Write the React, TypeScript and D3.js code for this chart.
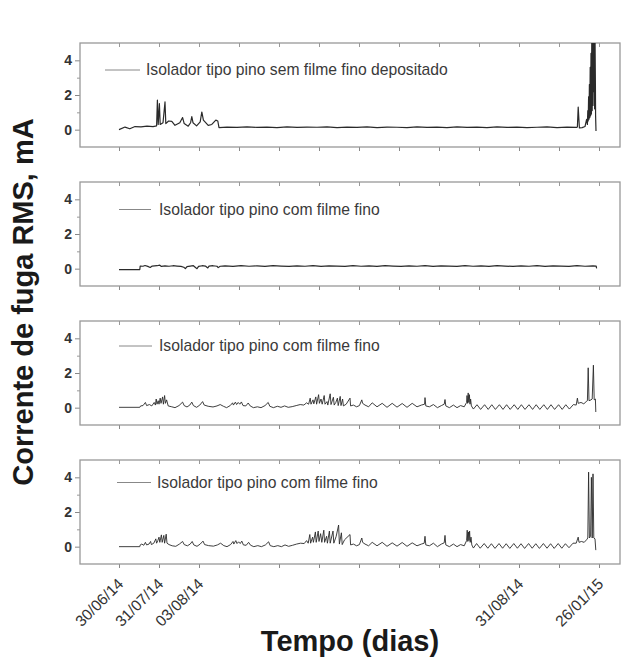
import React, { useRef, useEffect } from 'react';
import * as d3 from 'd3';

type Pt = [number, number];

// x is a day-index scale where every 10 units is one axis tick
const seriesNames = [
  'Isolador tipo pino sem filme fino depositado',
  'Isolador tipo pino com filme fino',
  'Isolador tipo pino com filme fino',
  'Isolador tipo pino com filme fino',
];

const dateTicks = [0, 10, 20, 100, 120];
const dateLabels = ['30/06/14', '31/07/14', '03/08/14', '31/08/14', '26/01/15'];
const yTicks = [0, 2, 4];
const yMinorTicks = [1, 3];

const semFilme: Pt[] = [
  [0, 0.0], [1.5, 0.15], [2.7, 0.05], [4, 0.18], [5.5, 0.16], [7, 0.2], [8.5, 0.18], [9.4, 0.22],
  [9.6, 1.7], [9.8, 0.3], [10.1, 1.5], [10.3, 0.3], [11, 0.4], [11.5, 1.6], [11.7, 0.35],
  [12.4, 0.5], [13.2, 0.48], [14, 0.25], [15.2, 0.4], [15.9, 0.7], [16.3, 0.35], [17.3, 0.2],
  [17.9, 0.4], [18.2, 0.75], [18.5, 0.4], [19.4, 0.22], [20.3, 0.45], [20.7, 1.02], [21.1, 0.55],
  [22.3, 0.25], [23.2, 0.3], [24.2, 0.55], [24.7, 0.5], [25, 0.12],
  [27, 0.15], [29.5, 0.13], [32, 0.16], [34.5, 0.13], [37, 0.15], [39.5, 0.12], [42, 0.16],
  [44.5, 0.13], [47, 0.15], [49.5, 0.14], [52, 0.16], [54.5, 0.12], [57, 0.15], [59.5, 0.13],
  [62, 0.16], [64.5, 0.12], [67, 0.15], [69.5, 0.14], [72, 0.12], [74.5, 0.16], [77, 0.13],
  [79.5, 0.15], [82, 0.12], [84.5, 0.16], [87, 0.13], [89.5, 0.15], [92, 0.12], [94.5, 0.16],
  [97, 0.13], [99.5, 0.15], [102, 0.12], [104.5, 0.14], [107, 0.16], [109.5, 0.12], [112, 0.15],
  [114.4, 0.13], [114.6, 0.15], [114.8, 1.3], [115.1, 0.1], [115.8, 0.12], [116.5, 0.18],
  [116.9, 0.6], [117.1, 0.3], [117.2, 1.1], [117.3, 0.5], [117.4, 1.9], [117.5, 0.6], [117.6, 2.6],
  [117.7, 0.7], [117.8, 3.6], [117.9, 0.8], [118.0, 4.4], [118.1, 0.9], [118.2, 5.5], [118.3, 1.1],
  [118.4, 5.5], [118.5, 1.4], [118.6, 5.5], [118.7, 2.2], [118.8, 5.5], [118.9, 1.2], [119.0, 5.5],
  [119.1, 2.6], [119.15, 0.8], [119.25, -0.08],
];

const comFilmeA: Pt[] = [
  [0, -0.05], [5.2, -0.05], [5.3, 0.15], [6, 0.14], [6.5, 0.18], [7.2, 0.13], [7.8, 0.07],
  [8.3, 0.15], [9.5, 0.17], [10.2, 0.2], [10.6, 0.13], [11.5, 0.16], [12.5, 0.14], [13.5, 0.17],
  [14.5, 0.15], [15.5, 0.13], [16.2, 0.08], [16.6, 0.0], [17, 0.12], [17.8, 0.15], [18.6, 0.17],
  [19.2, 0.05], [19.5, 0.0], [19.9, 0.13], [20.8, 0.17], [21.6, 0.15], [22.2, 0.04], [22.5, 0.15],
  [23.5, 0.17], [24.5, 0.14], [24.8, 0.06], [25.3, 0.14], [26.5, 0.16], [28.5, 0.13], [30.5, 0.17],
  [32.5, 0.14], [34.5, 0.16], [36.5, 0.13], [38.5, 0.17], [40.5, 0.15], [42.5, 0.13], [44.5, 0.16],
  [46.5, 0.14], [48.5, 0.17], [50.5, 0.13], [52.5, 0.16], [54.5, 0.15], [56.5, 0.13], [58.5, 0.17],
  [60.5, 0.14], [62.5, 0.16], [64.5, 0.13], [66.5, 0.17], [68.5, 0.15], [70.5, 0.13], [72.5, 0.16],
  [74.5, 0.14], [76.5, 0.17], [78.5, 0.13], [80.5, 0.16], [82.5, 0.15], [84.5, 0.13], [86.5, 0.17],
  [88.5, 0.14], [90.5, 0.16], [92.5, 0.13], [94.5, 0.17], [96.5, 0.15], [98.5, 0.13], [100.5, 0.16],
  [102.5, 0.14], [104.5, 0.17], [106.5, 0.13], [108.5, 0.16], [110.5, 0.15], [112.5, 0.13],
  [114.5, 0.17], [116.5, 0.14], [118.5, 0.16], [119.3, 0.15], [119.4, 0.02],
];

const comFilmeB: Pt[] = [
  [0, 0.02], [5.2, 0.02], [5.4, 0.1], [6, 0.12], [6.6, 0.3], [6.9, 0.12], [7.6, 0.18], [8.2, 0.1],
  [8.8, 0.3], [9.1, 0.15], [9.3, 0.5], [9.5, 0.2], [9.8, 0.4], [10, 0.2], [10.3, 0.55], [10.5, 0.25],
  [10.9, 0.62], [11.1, 0.2], [11.4, 0.7], [11.6, 0.25], [11.9, 0.45], [12.3, 0.1], [13.2, 0.05],
  [14, 0.0], [15, 0.12], [15.9, 0.32], [16.3, 0.12], [17, 0.04], [17.7, 0.15], [18.2, 0.32],
  [18.6, 0.12], [19.4, 0.02], [20.2, 0.15], [20.9, 0.35], [21.3, 0.15], [22.3, 0.08], [23.5, 0.04],
  [24.5, 0.1], [25.3, 0.18], [26.1, 0.08], [26.9, 0.0], [27.8, 0.12], [28.4, 0.28], [28.6, 0.15],
  [29.1, 0.32], [29.4, 0.18], [29.8, 0.3], [30.2, 0.2], [30.6, 0.33], [31, 0.12], [31.7, 0.1],
  [32.3, 0.27], [32.8, 0.1], [33.6, 0.0], [34.6, 0.05], [35.5, 0.0], [36.5, 0.12], [37.3, 0.3],
  [37.7, 0.08], [38.6, 0.0], [39.6, 0.08], [40.5, 0.02], [41.4, 0.1], [42.3, 0.02], [43.3, 0.06],
  [44.3, 0.12], [45.3, 0.18], [46.2, 0.15], [46.9, 0.28], [47.4, 0.2], [47.8, 0.55], [48.0, 0.2],
  [48.5, 0.45], [48.7, 0.22], [49.2, 0.62], [49.4, 0.2], [49.9, 0.75], [50.1, 0.25], [50.5, 0.5],
  [50.8, 0.2], [51.3, 0.7], [51.5, 0.2], [52, 0.35], [52.2, 0.15], [52.8, 0.8], [53, 0.18],
  [53.6, 0.6], [53.8, 0.15], [54.2, 0.3], [54.6, 0.55], [54.8, 0.12], [55.3, 0.65], [55.5, 0.12],
  [55.9, 0.5], [56.1, 0.1], [56.8, 0.2], [57.75, 0.55], [57.9, 0.1], [58.6, 0.15], [59.4, 0.05],
  [60.1, 0.12], [60.7, 0.45], [60.9, 0.25], [61.5, 0.15], [62.4, 0.05], [63.3, 0.28], [64.5, 0.05],
  [65.8, 0.25], [67, 0.02], [68.3, 0.25], [69.5, 0.03], [70.8, 0.24], [72, 0.02], [73.3, 0.25],
  [74.5, 0.05], [75.6, 0.15], [76.4, 0.2], [76.5, 0.58], [76.7, 0.1], [77.6, 0.05], [78.6, 0.18],
  [79.6, 0.0], [80.6, 0.12], [81.3, 0.2], [81.5, 0.47], [81.7, 0.1], [82.6, 0.0], [83.6, 0.15],
  [84.5, 0.0], [85.4, 0.12], [86.3, 0.05], [86.9, 0.3], [87.0, 0.7], [87.15, 0.25], [87.3, 0.85],
  [87.45, 0.3], [87.6, 0.75], [87.75, 0.2], [87.9, 0.5], [88.1, 0.1], [88.6, -0.08], [89.5, 0.17],
  [90.4, -0.1], [91.4, 0.17], [92.3, -0.1], [93.2, 0.17], [94.1, -0.1], [95.1, 0.17], [96, -0.1],
  [96.9, 0.17], [97.8, -0.1], [98.8, 0.17], [99.7, -0.1], [100.6, 0.17], [101.5, -0.1], [102.5, 0.17],
  [103.4, -0.1], [104.3, 0.17], [105.2, -0.1], [106.2, 0.17], [107.1, -0.1], [108, 0.17],
  [108.9, -0.1], [109.9, 0.17], [110.8, -0.1], [111.7, 0.17], [112.6, -0.08], [113.6, 0.18],
  [114.3, 0.15], [114.6, 0.55], [114.8, 0.25], [115.5, 0.3], [116.2, 0.22], [116.8, 0.35],
  [117.1, 0.4], [117.3, 2.3], [117.5, 0.4], [118, 0.45], [118.3, 0.5], [118.6, 2.45], [118.8, 0.45],
  [119.1, 0.5], [119.2, -0.25],
];

const comFilmeC: Pt[] = [
  [0, 0.0], [5.2, 0.0], [5.3, 0.1], [5.7, 0.15], [6.2, 0.08], [6.6, 0.25], [6.9, 0.1], [7.5, 0.15],
  [7.9, 0.3], [8.1, 0.12], [8.7, 0.2], [9.2, 0.45], [9.4, 0.2], [9.7, 0.35], [10, 0.55], [10.2, 0.25],
  [10.6, 0.68], [10.8, 0.25], [11.2, 0.65], [11.4, 0.2], [11.8, 0.72], [12, 0.2], [12.5, 0.12],
  [13.3, 0.05], [14.2, 0.02], [15.1, 0.15], [15.9, 0.3], [16.3, 0.12], [17.1, 0.05], [17.8, 0.15],
  [18.3, 0.3], [18.7, 0.1], [19.5, 0.02], [20.3, 0.15], [21, 0.32], [21.4, 0.12], [22.4, 0.06],
  [23.6, 0.03], [24.6, 0.1], [25.4, 0.2], [26.2, 0.06], [27, 0.0], [27.9, 0.12], [28.5, 0.3],
  [28.7, 0.15], [29.2, 0.35], [29.5, 0.18], [29.9, 0.28], [30.3, 0.18], [30.7, 0.32], [31.1, 0.1],
  [31.8, 0.08], [32.4, 0.25], [32.9, 0.08], [33.7, 0.0], [34.7, 0.06], [35.6, 0.0], [36.6, 0.1],
  [37.4, 0.28], [37.8, 0.06], [38.7, 0.0], [39.7, 0.06], [40.6, 0.0], [41.5, 0.1], [42.4, 0.02],
  [43.4, 0.08], [44.4, 0.15], [45.4, 0.2], [46.3, 0.18], [46.9, 0.35], [47.3, 0.2], [47.7, 0.7],
  [47.9, 0.2], [48.4, 0.55], [48.6, 0.25], [49.1, 0.85], [49.3, 0.25], [49.8, 0.9], [50, 0.3],
  [50.4, 0.75], [50.7, 0.25], [51.2, 0.95], [51.4, 0.25], [51.9, 0.6], [52.1, 0.2], [52.6, 0.9],
  [52.8, 0.2], [53.5, 0.9], [53.7, 0.2], [54.3, 0.6], [54.9, 1.25], [55.1, 0.15], [55.6, 0.8],
  [55.8, 0.12], [56.4, 0.4], [57.75, 0.7], [57.9, 0.1], [58.6, 0.15], [59.4, 0.05], [60.1, 0.12],
  [60.7, 0.5], [60.9, 0.25], [61.5, 0.15], [62.4, 0.05], [63.3, 0.25], [64.5, 0.05], [65.8, 0.25],
  [67, 0.02], [68.3, 0.22], [69.5, 0.03], [70.8, 0.24], [72, 0.02], [73.3, 0.22], [74.5, 0.05],
  [75.6, 0.15], [76.3, 0.2], [76.5, 0.6], [76.7, 0.1], [77.6, 0.05], [78.6, 0.2], [79.6, 0.0],
  [80.6, 0.15], [81.3, 0.22], [81.5, 0.65], [81.7, 0.1], [82.6, 0.0], [83.6, 0.15], [84.5, 0.0],
  [85.4, 0.12], [86.3, 0.05], [86.9, 0.35], [87.05, 0.95], [87.2, 0.3], [87.35, 0.85], [87.5, 0.35],
  [87.65, 0.9], [87.8, 0.25], [88, 0.55], [88.2, 0.1], [88.6, -0.08], [89.4, 0.18], [90.3, -0.09],
  [91.3, 0.18], [92.2, -0.09], [93.1, 0.17], [94, -0.1], [95, 0.18], [95.9, -0.09], [96.8, 0.17],
  [97.7, -0.1], [98.7, 0.18], [99.6, -0.09], [100.5, 0.17], [101.4, -0.1], [102.4, 0.18],
  [103.3, -0.09], [104.2, 0.17], [105.1, -0.1], [106.1, 0.18], [107, -0.09], [107.9, 0.17],
  [108.8, -0.1], [109.8, 0.18], [110.7, -0.09], [111.6, 0.17], [112.5, -0.06], [113.5, 0.2],
  [114.3, 0.2], [114.8, 0.55], [115, 0.25], [115.6, 0.3], [116.3, 0.25], [116.9, 0.4], [117.2, 0.5],
  [117.4, 4.3], [117.6, 0.5], [117.9, 0.6], [118.1, 4.0], [118.3, 0.5], [118.5, 4.2], [118.7, 0.5],
  [119, 0.45], [119.2, -0.2],
];

const series: Pt[][] = [semFilme, comFilmeA, comFilmeB, comFilmeC];

const W = 635;
const H = 662;
const left = 80;
const right = 620;
const panelTops = [43, 182, 321, 460];
const panelH = 104;
// legend line start/end, text start, vertical offset from panel top, trace width
const legendLayout = [
  { x0: 105, x1: 140, tx: 146, dy: 27, sw: 1.2 },
  { x0: 119, x1: 151, tx: 159, dy: 27.5, sw: 1.2 },
  { x0: 119, x1: 152, tx: 159, dy: 25, sw: 0.9 },
  { x0: 117, x1: 151, tx: 157, dy: 22.5, sw: 0.9 },
];
const font = "'Liberation Sans', Arial, Helvetica, sans-serif";

const App = () => {
  const svgRef = useRef<SVGSVGElement | null>(null);

  useEffect(() => {
    const svg = d3.select(svgRef.current);
    svg.selectAll('*').remove();

    svg.append('rect').attr('width', W).attr('height', H).attr('fill', '#fff');

    const x = d3.scaleLinear().domain([-9.75, 125.25]).range([left, right]);
    const defs = svg.append('defs');

    series.forEach((data, i) => {
      const top = panelTops[i];
      const bottom = top + panelH;
      const y = d3.scaleLinear().domain([-1, 5]).range([bottom, top]);
      const g = svg.append('g');
      const lg = legendLayout[i];

      defs.append('clipPath').attr('id', `clip${i}`)
        .append('rect')
        .attr('x', left).attr('y', top)
        .attr('width', right - left).attr('height', panelH);

      // y axis, major + minor ticks
      g.append('g')
        .attr('transform', `translate(${left},0)`)
        .call(d3.axisLeft(y).tickValues(yTicks).tickSize(5).tickPadding(3).tickFormat(d3.format('d')))
        .call(a => a.select('.domain').remove())
        .call(a => a.selectAll('line').attr('stroke', '#888'))
        .call(a => a.selectAll('text')
          .attr('font-family', font).attr('font-size', 14).attr('font-weight', 'bold').attr('fill', '#333'));

      g.append('g')
        .attr('transform', `translate(${left},0)`)
        .call(d3.axisLeft(y).tickValues(yMinorTicks).tickSize(3).tickFormat(() => ''))
        .call(a => a.select('.domain').remove())
        .call(a => a.selectAll('line').attr('stroke', '#999'));

      // x ticks on bottom (outward) and top (inward)
      g.append('g')
        .attr('transform', `translate(0,${bottom})`)
        .call(d3.axisBottom(x).tickValues(d3.range(0, 121, 10)).tickSize(4).tickFormat(() => ''))
        .call(a => a.select('.domain').remove())
        .call(a => a.selectAll('line').attr('stroke', '#888'));

      g.append('g')
        .attr('transform', `translate(0,${top})`)
        .call(d3.axisBottom(x).tickValues(d3.range(0, 121, 10)).tickSize(4).tickFormat(() => ''))
        .call(a => a.select('.domain').remove())
        .call(a => a.selectAll('line').attr('stroke', '#999'));

      // frame
      g.append('rect')
        .attr('x', left).attr('y', top)
        .attr('width', right - left).attr('height', panelH)
        .attr('fill', 'none').attr('stroke', '#999').attr('stroke-width', 1.3);

      const line = d3.line<Pt>()
        .x(d => x(d[0]))
        .y(d => y(d[1]));

      g.append('path')
        .datum(data)
        .attr('clip-path', `url(#clip${i})`)
        .attr('fill', 'none')
        .attr('stroke', '#2a2a2a')
        .attr('stroke-width', lg.sw)
        .attr('stroke-linejoin', 'round')
        .attr('d', line);

      // legend
      g.append('line')
        .attr('x1', lg.x0).attr('x2', lg.x1)
        .attr('y1', top + lg.dy).attr('y2', top + lg.dy)
        .attr('stroke', '#888').attr('stroke-width', 1);
      g.append('text')
        .attr('x', lg.tx).attr('y', top + lg.dy)
        .attr('dy', '0.35em')
        .attr('font-family', font).attr('font-size', 15.7).attr('fill', '#3a3a3a')
        .text(seriesNames[i]);
    });

    // date labels under the last panel
    const lastBottom = panelTops[3] + panelH;
    svg.append('g')
      .attr('transform', `translate(0,${lastBottom})`)
      .call(d3.axisBottom(x).tickValues(dateTicks).tickSize(0).tickFormat((_, k) => dateLabels[k]))
      .call(a => a.select('.domain').remove())
      .call(a => a.selectAll('text')
        .attr('font-family', font).attr('font-size', 15.5).attr('fill', '#333')
        .attr('text-anchor', 'end')
        .attr('x', 0).attr('y', 0).attr('dy', '0.35em')
        .attr('transform', 'translate(1,17) rotate(-45)'));

    // axis titles
    svg.append('text')
      .attr('x', 350).attr('y', 651)
      .attr('text-anchor', 'middle')
      .attr('font-family', font).attr('font-size', 29).attr('font-weight', 'bold').attr('fill', '#1a1a1a')
      .text('Tempo (dias)');

    svg.append('text')
      .attr('transform', 'translate(33,302) rotate(-90)')
      .attr('text-anchor', 'middle')
      .attr('font-family', font).attr('font-size', 29).attr('font-weight', 'bold').attr('fill', '#1a1a1a')
      .text('Corrente de fuga RMS, mA');
  }, []);

  return (
    <svg
      ref={svgRef}
      width={W}
      height={H}
      style={{ position: 'absolute', left: 0, top: 0 }}
    ></svg>
  );
};

export default App;
